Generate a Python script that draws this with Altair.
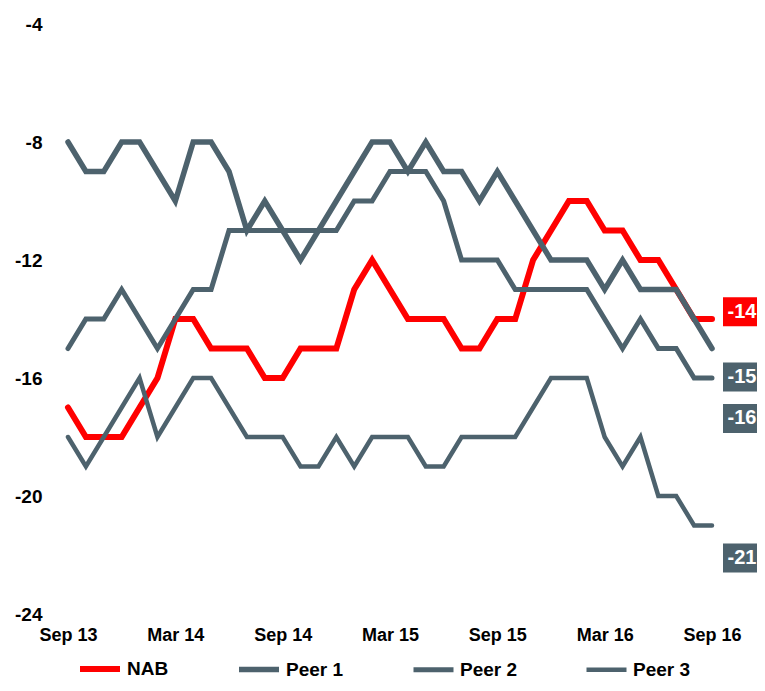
import altair as alt
import pandas as pd

# ---- data ----
months = [
    "Sep 13", "Oct 13", "Nov 13", "Dec 13",
    "Jan 14", "Feb 14", "Mar 14", "Apr 14", "May 14", "Jun 14", "Jul 14", "Aug 14", "Sep 14", "Oct 14", "Nov 14", "Dec 14",
    "Jan 15", "Feb 15", "Mar 15", "Apr 15", "May 15", "Jun 15", "Jul 15", "Aug 15", "Sep 15", "Oct 15", "Nov 15", "Dec 15",
    "Jan 16", "Feb 16", "Mar 16", "Apr 16", "May 16", "Jun 16", "Jul 16", "Aug 16", "Sep 16",
]
tick_labels = ["Sep 13", "Mar 14", "Sep 14", "Mar 15", "Sep 15", "Mar 16", "Sep 16"]
y_ticks = [-4, -8, -12, -16, -20, -24]

series = ["NAB", "Peer 1", "Peer 2", "Peer 3"]

nab = [-17, -18, -18, -18, -17, -16, -14, -14, -15, -15, -15, -16, -16, -15, -15, -15,
       -13, -12, -13, -14, -14, -14, -15, -15, -14, -14, -12, -11, -10, -10, -11, -11,
       -12, -12, -13, -14, -14]
peer1 = [-8, -9, -9, -8, -8, -9, -10, -8, -8, -9, -11, -10, -11, -12, -11, -10,
         -9, -8, -8, -9, -8, -9, -9, -10, -9, -10, -11, -12, -12, -12, -13, -12,
         -13, -13, -13, -14, -15]
peer2 = [-15, -14, -14, -13, -14, -15, -14, -13, -13, -11, -11, -11, -11, -11, -11, -11,
         -10, -10, -9, -9, -9, -10, -12, -12, -12, -13, -13, -13, -13, -13, -14, -15,
         -14, -15, -15, -16, -16]
peer3 = [-18, -19, -18, -17, -16, -18, -17, -16, -16, -17, -18, -18, -18, -19, -19, -18,
         -19, -18, -18, -18, -19, -19, -18, -18, -18, -18, -17, -16, -16, -16, -18, -19,
         -18, -20, -20, -21, -21]

end_labels = ["-14", "-15", "-16", "-21"]
end_label_pos = [-13.75, -15.97, -17.37, -22.1]

# ---- styles ----
RED = "#ff0000"
GREY = "#4d626d"
FONT = "Liberation Sans"
colors = [RED, GREY, GREY, GREY]
widths = [6, 4.5, 4.5, 4.5]

values_by_series = {"NAB": nab, "Peer 1": peer1, "Peer 2": peer2, "Peer 3": peer3}
rows = []
for s in series:
    for m, v in zip(months, values_by_series[s]):
        rows.append({"month": m, "series": s, "value": v})
df = pd.DataFrame(rows)

lab_df = pd.DataFrame({
    "month": [months[-1]] * len(series),
    "series": series,
    "label": end_labels,
    "pos": end_label_pos,
})

x_enc = alt.X(
    "month:N", sort=months,
    scale=alt.Scale(type="point", padding=0),
    axis=alt.Axis(values=tick_labels, labelAngle=0, title=None, domain=False, ticks=False,
                  grid=False, labelFont=FONT, labelFontSize=18, labelFontWeight="bold",
                  labelColor="black", labelPadding=12),
)
y_scale = alt.Scale(domain=[-24, -4], nice=False, zero=False)

legend = alt.Legend(
    title=None, orient="none", legendX=9, legendY=622, direction="horizontal",
    symbolType="stroke", symbolSize=1600, labelFont=FONT, labelFontSize=19,
    labelFontWeight="bold", labelColor="black", labelOffset=4, columnPadding=59,
    padding=0,
)

lines = alt.Chart(df).mark_line(strokeCap="round").encode(
    x=x_enc,
    y=alt.Y("value:Q", scale=y_scale,
            axis=alt.Axis(values=y_ticks, title=None, domain=False, ticks=False, grid=False,
                          labelExpr="toString(datum.value)",
                          labelFont=FONT, labelFontSize=19, labelFontWeight="bold",
                          labelColor="black", labelPadding=26)),
    color=alt.Color("series:N", sort=series, scale=alt.Scale(domain=series, range=colors),
                    legend=legend),
    strokeWidth=alt.StrokeWidth("series:N", sort=series,
                                scale=alt.Scale(domain=series, range=widths), legend=legend),
    order=alt.Order("series:N"),
)

boxes = alt.Chart(lab_df).mark_rect(width=36, height=29, xOffset=29).encode(
    x=alt.X("month:N", sort=months),
    y=alt.Y("pos:Q", scale=y_scale),
    fill=alt.Fill("series:N", scale=alt.Scale(domain=series, range=colors), legend=None),
)

texts = alt.Chart(lab_df).mark_text(
    dx=30, color="white", font=FONT, fontSize=20, fontWeight="bold",
    align="center", baseline="middle",
).encode(
    x=alt.X("month:N", sort=months),
    y=alt.Y("pos:Q", scale=y_scale),
    text="label:N",
)

chart = alt.layer(lines, boxes, texts).properties(
    width=644, height=590,
    autosize=alt.AutoSizeParams(type="none"),
    padding={"left": 60, "top": 16, "right": 45, "bottom": 66},
    background="white",
).configure_view(stroke=None)

chart.save("out.html", embed_options={"renderer": "svg", "actions": False})
